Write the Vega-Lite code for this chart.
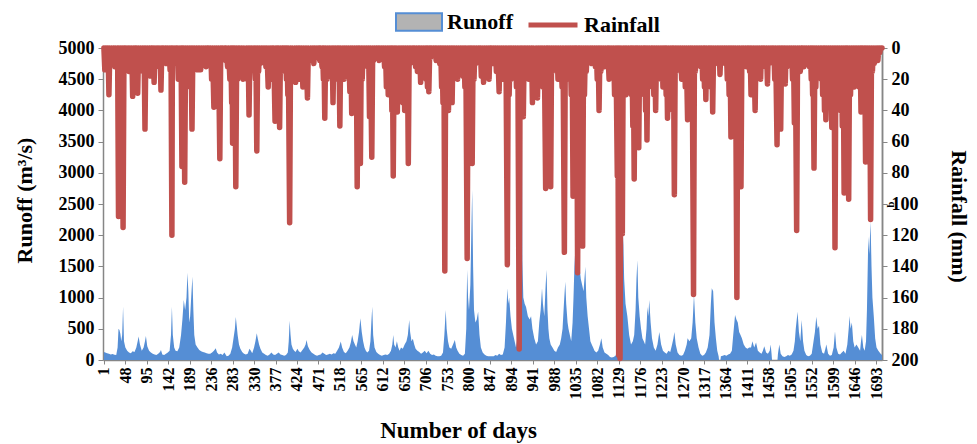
{
"$schema": "https://vega.github.io/schema/vega-lite/v6.json",
"width": 779, "height": 312,
"autosize": {"type": "none"},
"padding": {"left": 103, "top": 48, "right": 95, "bottom": 84},
"background": "white",
"config": {"view": {"stroke": null}, "font": "Liberation Serif",
 "axis": {"labelFont": "Liberation Serif", "titleFont": "Liberation Serif", "labelFontWeight": "bold", "titleFontWeight": "bold", "labelColor": "black", "titleColor": "black", "domainColor": "#868686", "tickColor": "#868686", "domainWidth": 1.5, "grid": false, "labelOverlap": false, "labelBound": false},
 "axisX": {"labelOverlap": false, "labelSeparation": -30},
 "legend": {"labelFont": "Liberation Serif", "labelFontWeight": "bold", "labelFontSize": 22, "labelColor": "black"}},
"datasets": {
"runoff": [
{"d":1,"q":130},{"d":4,"q":120},{"d":8,"q":110},{"d":12,"q":100},{"d":16,"q":90},{"d":20,"q":95},{"d":24,"q":85},{"d":28,"q":80},{"d":31,"q":200},{"d":33,"q":500},{"d":35,"q":480},{"d":37,"q":420},{"d":39,"q":300},{"d":41,"q":400},{"d":43,"q":855},{"d":45,"q":300},{"d":48,"q":200},{"d":52,"q":150},{"d":56,"q":120},{"d":60,"q":110},{"d":64,"q":140},{"d":68,"q":130},{"d":72,"q":200},{"d":75,"q":300},{"d":77,"q":375},{"d":80,"q":250},{"d":84,"q":150},{"d":88,"q":200},{"d":91,"q":300},{"d":93,"q":385},{"d":96,"q":220},{"d":100,"q":150},{"d":104,"q":120},{"d":108,"q":100},{"d":112,"q":90},{"d":116,"q":80},{"d":120,"q":100},{"d":124,"q":130},{"d":126,"q":160},{"d":129,"q":90},{"d":133,"q":80},{"d":137,"q":100},{"d":141,"q":120},{"d":145,"q":150},{"d":148,"q":400},{"d":150,"q":855},{"d":152,"q":400},{"d":155,"q":200},{"d":158,"q":150},{"d":162,"q":140},{"d":166,"q":200},{"d":170,"q":400},{"d":173,"q":650},{"d":176,"q":960},{"d":179,"q":800},{"d":182,"q":1000},{"d":184,"q":1400},{"d":186,"q":1100},{"d":188,"q":600},{"d":190,"q":700},{"d":193,"q":1100},{"d":195,"q":1335},{"d":197,"q":800},{"d":199,"q":400},{"d":202,"q":250},{"d":206,"q":200},{"d":210,"q":160},{"d":214,"q":140},{"d":218,"q":130},{"d":222,"q":120},{"d":226,"q":110},{"d":230,"q":100},{"d":234,"q":100},{"d":238,"q":120},{"d":242,"q":150},{"d":246,"q":190},{"d":249,"q":120},{"d":253,"q":90},{"d":257,"q":100},{"d":261,"q":80},{"d":265,"q":120},{"d":270,"q":60},{"d":274,"q":70},{"d":278,"q":100},{"d":282,"q":200},{"d":285,"q":350},{"d":288,"q":500},{"d":290,"q":690},{"d":292,"q":550},{"d":294,"q":400},{"d":297,"q":250},{"d":300,"q":180},{"d":304,"q":130},{"d":308,"q":100},{"d":312,"q":90},{"d":316,"q":100},{"d":320,"q":180},{"d":323,"q":150},{"d":326,"q":110},{"d":330,"q":200},{"d":333,"q":300},{"d":336,"q":430},{"d":338,"q":350},{"d":341,"q":250},{"d":344,"q":180},{"d":348,"q":120},{"d":352,"q":100},{"d":356,"q":80},{"d":360,"q":70},{"d":364,"q":90},{"d":368,"q":120},{"d":372,"q":90},{"d":376,"q":80},{"d":380,"q":100},{"d":384,"q":120},{"d":388,"q":90},{"d":392,"q":80},{"d":396,"q":70},{"d":400,"q":80},{"d":404,"q":120},{"d":406,"q":300},{"d":408,"q":630},{"d":410,"q":400},{"d":412,"q":250},{"d":415,"q":180},{"d":418,"q":150},{"d":421,"q":130},{"d":425,"q":180},{"d":428,"q":140},{"d":432,"q":120},{"d":436,"q":160},{"d":440,"q":200},{"d":443,"q":250},{"d":445,"q":320},{"d":448,"q":220},{"d":452,"q":160},{"d":456,"q":120},{"d":460,"q":100},{"d":464,"q":80},{"d":468,"q":70},{"d":472,"q":80},{"d":476,"q":90},{"d":480,"q":120},{"d":484,"q":100},{"d":488,"q":80},{"d":492,"q":90},{"d":496,"q":100},{"d":500,"q":90},{"d":504,"q":110},{"d":508,"q":100},{"d":512,"q":150},{"d":516,"q":200},{"d":520,"q":295},{"d":523,"q":200},{"d":527,"q":130},{"d":531,"q":110},{"d":535,"q":150},{"d":539,"q":200},{"d":542,"q":280},{"d":545,"q":400},{"d":548,"q":300},{"d":551,"q":250},{"d":554,"q":200},{"d":557,"q":300},{"d":560,"q":450},{"d":563,"q":670},{"d":566,"q":450},{"d":569,"q":300},{"d":572,"q":200},{"d":575,"q":150},{"d":578,"q":120},{"d":582,"q":150},{"d":585,"q":300},{"d":587,"q":600},{"d":589,"q":855},{"d":591,"q":400},{"d":594,"q":200},{"d":598,"q":130},{"d":602,"q":100},{"d":606,"q":80},{"d":610,"q":70},{"d":614,"q":80},{"d":618,"q":90},{"d":622,"q":80},{"d":626,"q":100},{"d":630,"q":150},{"d":633,"q":250},{"d":635,"q":400},{"d":637,"q":250},{"d":640,"q":200},{"d":643,"q":300},{"d":646,"q":200},{"d":649,"q":150},{"d":652,"q":200},{"d":656,"q":180},{"d":660,"q":250},{"d":664,"q":300},{"d":667,"q":400},{"d":670,"q":640},{"d":672,"q":450},{"d":675,"q":300},{"d":678,"q":340},{"d":681,"q":250},{"d":684,"q":180},{"d":688,"q":150},{"d":692,"q":130},{"d":696,"q":100},{"d":700,"q":120},{"d":704,"q":150},{"d":708,"q":110},{"d":712,"q":150},{"d":716,"q":100},{"d":720,"q":80},{"d":724,"q":90},{"d":728,"q":70},{"d":732,"q":60},{"d":736,"q":60},{"d":740,"q":70},{"d":744,"q":120},{"d":747,"q":400},{"d":750,"q":800},{"d":752,"q":500},{"d":755,"q":300},{"d":758,"q":200},{"d":762,"q":180},{"d":766,"q":250},{"d":770,"q":320},{"d":773,"q":200},{"d":776,"q":150},{"d":780,"q":100},{"d":784,"q":80},{"d":788,"q":70},{"d":792,"q":100},{"d":795,"q":500},{"d":797,"q":1445},{"d":799,"q":1000},{"d":801,"q":800},{"d":804,"q":1200},{"d":806,"q":2000},{"d":808,"q":2725},{"d":810,"q":1500},{"d":812,"q":800},{"d":815,"q":600},{"d":818,"q":650},{"d":821,"q":775},{"d":824,"q":400},{"d":827,"q":200},{"d":831,"q":120},{"d":835,"q":90},{"d":839,"q":70},{"d":843,"q":60},{"d":847,"q":60},{"d":851,"q":60},{"d":855,"q":60},{"d":859,"q":80},{"d":863,"q":70},{"d":867,"q":100},{"d":871,"q":80},{"d":875,"q":90},{"d":879,"q":200},{"d":882,"q":600},{"d":885,"q":1150},{"d":887,"q":900},{"d":889,"q":1000},{"d":892,"q":700},{"d":895,"q":500},{"d":898,"q":400},{"d":901,"q":300},{"d":904,"q":200},{"d":908,"q":400},{"d":911,"q":800},{"d":914,"q":1200},{"d":916,"q":1680},{"d":917,"q":4650},{"d":918,"q":1600},{"d":920,"q":1000},{"d":923,"q":900},{"d":926,"q":850},{"d":930,"q":700},{"d":934,"q":650},{"d":937,"q":700},{"d":940,"q":500},{"d":944,"q":350},{"d":948,"q":250},{"d":952,"q":300},{"d":955,"q":600},{"d":958,"q":800},{"d":961,"q":1150},{"d":963,"q":900},{"d":966,"q":700},{"d":969,"q":1200},{"d":971,"q":1445},{"d":973,"q":800},{"d":975,"q":500},{"d":977,"q":350},{"d":980,"q":250},{"d":984,"q":200},{"d":988,"q":150},{"d":992,"q":130},{"d":996,"q":200},{"d":1000,"q":250},{"d":1003,"q":350},{"d":1006,"q":500},{"d":1009,"q":900},{"d":1012,"q":1255},{"d":1014,"q":900},{"d":1017,"q":600},{"d":1019,"q":500},{"d":1022,"q":400},{"d":1025,"q":300},{"d":1028,"q":600},{"d":1030,"q":1000},{"d":1032,"q":1500},{"d":1035,"q":1925},{"d":1037,"q":1600},{"d":1039,"q":4970},{"d":1040,"q":1700},{"d":1043,"q":1500},{"d":1046,"q":1300},{"d":1049,"q":1200},{"d":1052,"q":1100},{"d":1054,"q":1300},{"d":1056,"q":1495},{"d":1058,"q":1000},{"d":1061,"q":700},{"d":1064,"q":500},{"d":1067,"q":300},{"d":1070,"q":250},{"d":1073,"q":200},{"d":1076,"q":150},{"d":1080,"q":120},{"d":1084,"q":150},{"d":1088,"q":250},{"d":1091,"q":350},{"d":1094,"q":200},{"d":1098,"q":120},{"d":1102,"q":100},{"d":1106,"q":80},{"d":1110,"q":50},{"d":1114,"q":40},{"d":1118,"q":50},{"d":1122,"q":70},{"d":1126,"q":150},{"d":1130,"q":300},{"d":1133,"q":600},{"d":1136,"q":1200},{"d":1139,"q":1975},{"d":1141,"q":1300},{"d":1144,"q":900},{"d":1148,"q":700},{"d":1152,"q":400},{"d":1156,"q":250},{"d":1160,"q":300},{"d":1163,"q":400},{"d":1166,"q":800},{"d":1168,"q":1300},{"d":1170,"q":1600},{"d":1172,"q":1000},{"d":1175,"q":700},{"d":1178,"q":500},{"d":1181,"q":350},{"d":1184,"q":300},{"d":1187,"q":250},{"d":1190,"q":500},{"d":1192,"q":850},{"d":1194,"q":700},{"d":1196,"q":960},{"d":1199,"q":600},{"d":1202,"q":350},{"d":1206,"q":200},{"d":1210,"q":150},{"d":1214,"q":250},{"d":1218,"q":450},{"d":1222,"q":250},{"d":1226,"q":150},{"d":1230,"q":120},{"d":1234,"q":100},{"d":1238,"q":150},{"d":1242,"q":130},{"d":1246,"q":250},{"d":1249,"q":350},{"d":1251,"q":450},{"d":1254,"q":250},{"d":1258,"q":120},{"d":1262,"q":80},{"d":1266,"q":70},{"d":1270,"q":80},{"d":1274,"q":150},{"d":1278,"q":250},{"d":1280,"q":350},{"d":1284,"q":300},{"d":1288,"q":350},{"d":1291,"q":600},{"d":1294,"q":1040},{"d":1297,"q":600},{"d":1300,"q":350},{"d":1304,"q":200},{"d":1308,"q":100},{"d":1312,"q":70},{"d":1316,"q":80},{"d":1320,"q":120},{"d":1324,"q":200},{"d":1328,"q":400},{"d":1331,"q":900},{"d":1333,"q":1150},{"d":1336,"q":1100},{"d":1339,"q":600},{"d":1342,"q":350},{"d":1345,"q":150},{"d":1348,"q":60},{"d":1349,"q":0},{"d":1352,"q":0},{"d":1353,"q":60},{"d":1357,"q":70},{"d":1361,"q":80},{"d":1365,"q":70},{"d":1369,"q":90},{"d":1373,"q":100},{"d":1377,"q":150},{"d":1380,"q":400},{"d":1384,"q":720},{"d":1387,"q":650},{"d":1390,"q":600},{"d":1393,"q":450},{"d":1396,"q":400},{"d":1399,"q":350},{"d":1403,"q":250},{"d":1407,"q":200},{"d":1411,"q":180},{"d":1415,"q":200},{"d":1419,"q":200},{"d":1422,"q":300},{"d":1426,"q":200},{"d":1430,"q":280},{"d":1434,"q":150},{"d":1438,"q":120},{"d":1442,"q":100},{"d":1445,"q":150},{"d":1448,"q":220},{"d":1452,"q":120},{"d":1456,"q":100},{"d":1460,"q":150},{"d":1462,"q":250},{"d":1464,"q":100},{"d":1465,"q":0},{"d":1477,"q":0},{"d":1478,"q":100},{"d":1481,"q":250},{"d":1484,"q":100},{"d":1488,"q":60},{"d":1492,"q":50},{"d":1496,"q":60},{"d":1500,"q":80},{"d":1504,"q":70},{"d":1508,"q":90},{"d":1512,"q":150},{"d":1515,"q":300},{"d":1517,"q":500},{"d":1521,"q":775},{"d":1524,"q":450},{"d":1527,"q":300},{"d":1530,"q":640},{"d":1533,"q":300},{"d":1536,"q":150},{"d":1540,"q":80},{"d":1544,"q":60},{"d":1548,"q":70},{"d":1552,"q":100},{"d":1556,"q":300},{"d":1559,"q":450},{"d":1562,"q":695},{"d":1565,"q":500},{"d":1568,"q":550},{"d":1571,"q":250},{"d":1575,"q":120},{"d":1579,"q":100},{"d":1582,"q":180},{"d":1584,"q":250},{"d":1588,"q":100},{"d":1592,"q":70},{"d":1596,"q":80},{"d":1600,"q":200},{"d":1603,"q":455},{"d":1606,"q":200},{"d":1610,"q":100},{"d":1614,"q":90},{"d":1618,"q":120},{"d":1622,"q":150},{"d":1626,"q":100},{"d":1630,"q":250},{"d":1633,"q":500},{"d":1635,"q":705},{"d":1637,"q":500},{"d":1640,"q":600},{"d":1643,"q":300},{"d":1646,"q":200},{"d":1650,"q":250},{"d":1654,"q":200},{"d":1658,"q":150},{"d":1660,"q":300},{"d":1662,"q":400},{"d":1665,"q":200},{"d":1668,"q":150},{"d":1671,"q":300},{"d":1673,"q":800},{"d":1676,"q":1975},{"d":1678,"q":1700},{"d":1681,"q":2215},{"d":1683,"q":1500},{"d":1685,"q":1000},{"d":1688,"q":700},{"d":1691,"q":350},{"d":1694,"q":200},{"d":1698,"q":150},{"d":1703,"q":100},{"d":1706,"q":80}
],
"rain": [
{"d":1,"r":0},{"d":3,"r":14},{"d":5,"r":0},{"d":8,"r":5},{"d":10,"r":0},{"d":12,"r":30},{"d":14,"r":0},{"d":16,"r":10},{"d":18,"r":0},{"d":20,"r":4},{"d":22,"r":0},{"d":25,"r":12},{"d":27,"r":0},{"d":29,"r":6},{"d":31,"r":0},{"d":33,"r":108},{"d":34,"r":0},{"d":36,"r":20},{"d":38,"r":0},{"d":40,"r":8},{"d":41,"r":0},{"d":43,"r":115},{"d":45,"r":0},{"d":47,"r":6},{"d":49,"r":0},{"d":52,"r":4},{"d":54,"r":0},{"d":56,"r":15},{"d":58,"r":0},{"d":60,"r":8},{"d":62,"r":0},{"d":64,"r":31},{"d":66,"r":0},{"d":68,"r":10},{"d":69,"r":0},{"d":71,"r":5},{"d":73,"r":0},{"d":75,"r":29},{"d":77,"r":0},{"d":79,"r":12},{"d":81,"r":0},{"d":83,"r":6},{"d":85,"r":0},{"d":87,"r":15},{"d":89,"r":0},{"d":91,"r":52},{"d":93,"r":0},{"d":95,"r":8},{"d":97,"r":0},{"d":99,"r":4},{"d":101,"r":0},{"d":103,"r":18},{"d":105,"r":0},{"d":107,"r":6},{"d":109,"r":0},{"d":111,"r":22},{"d":113,"r":0},{"d":115,"r":8},{"d":117,"r":0},{"d":119,"r":5},{"d":120,"r":0},{"d":122,"r":12},{"d":124,"r":0},{"d":126,"r":27},{"d":128,"r":0},{"d":130,"r":6},{"d":132,"r":0},{"d":134,"r":3},{"d":136,"r":0},{"d":138,"r":10},{"d":140,"r":0},{"d":142,"r":6},{"d":144,"r":0},{"d":146,"r":14},{"d":148,"r":0},{"d":150,"r":120},{"d":151,"r":0},{"d":153,"r":10},{"d":155,"r":0},{"d":157,"r":4},{"d":159,"r":0},{"d":161,"r":8},{"d":162,"r":0},{"d":164,"r":20},{"d":166,"r":0},{"d":168,"r":12},{"d":170,"r":0},{"d":172,"r":76},{"d":173,"r":0},{"d":175,"r":30},{"d":176,"r":0},{"d":178,"r":86},{"d":180,"r":0},{"d":182,"r":10},{"d":184,"r":0},{"d":186,"r":18},{"d":188,"r":0},{"d":190,"r":25},{"d":192,"r":0},{"d":194,"r":52},{"d":196,"r":0},{"d":198,"r":12},{"d":200,"r":0},{"d":202,"r":6},{"d":204,"r":0},{"d":206,"r":14},{"d":208,"r":0},{"d":210,"r":4},{"d":211,"r":0},{"d":213,"r":14},{"d":215,"r":0},{"d":217,"r":8},{"d":219,"r":0},{"d":221,"r":5},{"d":223,"r":0},{"d":225,"r":12},{"d":227,"r":0},{"d":229,"r":4},{"d":231,"r":0},{"d":233,"r":10},{"d":235,"r":0},{"d":237,"r":20},{"d":239,"r":0},{"d":242,"r":38},{"d":244,"r":0},{"d":246,"r":8},{"d":248,"r":0},{"d":250,"r":15},{"d":252,"r":0},{"d":255,"r":71},{"d":257,"r":0},{"d":259,"r":6},{"d":261,"r":0},{"d":263,"r":4},{"d":266,"r":0},
{"d":268,"r":8},{"d":269,"r":0},{"d":272,"r":12},{"d":274,"r":0},{"d":277,"r":20},{"d":279,"r":0},{"d":281,"r":35},{"d":282,"r":0},{"d":283,"r":61},{"d":285,"r":0},{"d":287,"r":30},{"d":288,"r":0},{"d":290,"r":89},{"d":292,"r":0},{"d":294,"r":20},{"d":296,"r":0},{"d":298,"r":10},{"d":299,"r":0},{"d":301,"r":15},{"d":303,"r":0},{"d":306,"r":20},{"d":308,"r":0},{"d":311,"r":8},{"d":313,"r":0},{"d":315,"r":20},{"d":317,"r":0},{"d":319,"r":43},{"d":321,"r":0},{"d":323,"r":12},{"d":325,"r":0},{"d":328,"r":6},{"d":330,"r":0},{"d":333,"r":20},{"d":334,"r":0},{"d":336,"r":66},{"d":338,"r":0},{"d":340,"r":15},{"d":342,"r":0},{"d":344,"r":10},{"d":346,"r":0},{"d":348,"r":8},{"d":350,"r":0},{"d":352,"r":5},{"d":354,"r":0},{"d":356,"r":12},{"d":358,"r":0},{"d":361,"r":25},{"d":363,"r":0},{"d":365,"r":10},{"d":367,"r":0},{"d":369,"r":20},{"d":370,"r":0},{"d":372,"r":18},{"d":373,"r":0},{"d":376,"r":47},{"d":378,"r":0},{"d":380,"r":20},{"d":381,"r":0},{"d":383,"r":30},{"d":384,"r":0},{"d":386,"r":51},{"d":388,"r":0},{"d":390,"r":15},{"d":392,"r":0},{"d":394,"r":6},{"d":396,"r":0},{"d":398,"r":12},{"d":399,"r":0},{"d":401,"r":20},{"d":402,"r":0},{"d":404,"r":30},{"d":405,"r":0},{"d":408,"r":112},{"d":410,"r":0},{"d":412,"r":20},{"d":414,"r":0},{"d":417,"r":8},{"d":419,"r":0},{"d":421,"r":22},{"d":423,"r":0},{"d":425,"r":15},{"d":427,"r":0},{"d":429,"r":20},{"d":430,"r":0},{"d":432,"r":14},{"d":434,"r":0},{"d":437,"r":25},{"d":439,"r":0},{"d":442,"r":12},{"d":444,"r":0},{"d":447,"r":32},{"d":449,"r":0},{"d":452,"r":8},{"d":454,"r":0},{"d":457,"r":5},{"d":459,"r":0},{"d":461,"r":10},{"d":463,"r":0},{"d":466,"r":6},{"d":468,"r":0},{"d":470,"r":3},{"d":472,"r":0},{"d":474,"r":8},{"d":476,"r":0},{"d":479,"r":12},{"d":480,"r":0},{"d":482,"r":20},{"d":483,"r":0},{"d":485,"r":45},{"d":487,"r":0},{"d":490,"r":20},{"d":492,"r":0},{"d":494,"r":10},{"d":496,"r":0},{"d":499,"r":15},{"d":501,"r":0},{"d":503,"r":35},{"d":505,"r":0},{"d":507,"r":20},{"d":509,"r":0},{"d":511,"r":8},{"d":513,"r":0},{"d":515,"r":12},{"d":516,"r":0},{"d":518,"r":50},{"d":520,"r":0},{"d":523,"r":10},{"d":525,"r":0},{"d":527,"r":20},{"d":529,"r":0},{"d":531,"r":8},{"d":533,"r":0},{"d":535,"r":15},{"d":537,"r":0},{"d":540,"r":28},{"d":542,"r":0},{"d":544,"r":42},{"d":546,"r":0},{"d":548,"r":10},{"d":550,"r":0},{"d":552,"r":20},{"d":554,"r":0},{"d":556,"r":89},{"d":558,"r":0},
{"d":560,"r":20},{"d":561,"r":0},{"d":563,"r":74},{"d":565,"r":0},{"d":567,"r":20},{"d":569,"r":0},{"d":571,"r":10},{"d":573,"r":0},{"d":575,"r":6},{"d":577,"r":0},{"d":579,"r":12},{"d":581,"r":0},{"d":583,"r":44},{"d":585,"r":0},{"d":588,"r":70},{"d":590,"r":0},{"d":592,"r":8},{"d":594,"r":0},{"d":596,"r":3},{"d":598,"r":0},{"d":600,"r":5},{"d":602,"r":0},{"d":604,"r":8},{"d":606,"r":0},{"d":608,"r":4},{"d":610,"r":0},{"d":612,"r":6},{"d":614,"r":0},{"d":616,"r":12},{"d":618,"r":0},{"d":620,"r":25},{"d":622,"r":0},{"d":624,"r":30},{"d":626,"r":0},{"d":628,"r":20},{"d":630,"r":0},{"d":632,"r":40},{"d":633,"r":0},{"d":635,"r":82},{"d":637,"r":0},{"d":639,"r":30},{"d":641,"r":0},{"d":644,"r":41},{"d":646,"r":0},{"d":648,"r":10},{"d":650,"r":0},{"d":652,"r":20},{"d":654,"r":0},{"d":656,"r":35},{"d":658,"r":0},{"d":660,"r":40},{"d":662,"r":0},{"d":664,"r":25},{"d":666,"r":0},{"d":668,"r":74},{"d":670,"r":0},{"d":672,"r":10},{"d":674,"r":0},{"d":676,"r":4},{"d":678,"r":0},{"d":680,"r":8},{"d":682,"r":0},{"d":684,"r":12},{"d":686,"r":0},{"d":688,"r":15},{"d":690,"r":0},{"d":692,"r":10},{"d":693,"r":0},{"d":695,"r":22},{"d":697,"r":0},{"d":699,"r":8},{"d":701,"r":0},{"d":703,"r":12},{"d":705,"r":0},{"d":707,"r":20},{"d":708,"r":0},{"d":710,"r":25},{"d":711,"r":0},{"d":713,"r":28},{"d":715,"r":0},{"d":717,"r":6},{"d":719,"r":0},{"d":721,"r":3},{"d":723,"r":0},{"d":725,"r":5},{"d":727,"r":0},{"d":729,"r":8},{"d":731,"r":0},{"d":733,"r":4},{"d":735,"r":0},{"d":737,"r":10},{"d":739,"r":0},{"d":741,"r":25},{"d":742,"r":0},{"d":744,"r":35},{"d":746,"r":0},{"d":748,"r":143},{"d":750,"r":0},{"d":752,"r":30},{"d":754,"r":0},{"d":756,"r":40},{"d":758,"r":0},{"d":760,"r":25},{"d":762,"r":0},{"d":764,"r":35},{"d":766,"r":0},{"d":768,"r":15},{"d":770,"r":0},{"d":772,"r":10},{"d":774,"r":0},{"d":776,"r":20},{"d":778,"r":0},{"d":780,"r":12},{"d":782,"r":0},{"d":784,"r":8},{"d":786,"r":0},{"d":788,"r":18},{"d":790,"r":0},{"d":792,"r":25},{"d":794,"r":0},{"d":797,"r":135},{"d":799,"r":0},{"d":801,"r":30},{"d":803,"r":0},{"d":805,"r":40},{"d":806,"r":0},{"d":808,"r":74},{"d":810,"r":0},{"d":812,"r":20},{"d":814,"r":0},{"d":816,"r":10},{"d":818,"r":0},{"d":820,"r":5},{"d":822,"r":0},{"d":824,"r":8},{"d":826,"r":0},{"d":828,"r":18},{"d":830,"r":0},{"d":833,"r":22},{"d":835,"r":0},{"d":837,"r":10},{"d":839,"r":0},{"d":841,"r":6},{"d":843,"r":0},{"d":845,"r":20},{"d":847,"r":0},{"d":849,"r":5},{"d":851,"r":0},{"d":853,"r":10},{"d":855,"r":0},
{"d":857,"r":8},{"d":859,"r":0},{"d":861,"r":15},{"d":864,"r":0},{"d":867,"r":28},{"d":869,"r":0},{"d":871,"r":10},{"d":873,"r":0},{"d":875,"r":20},{"d":877,"r":0},{"d":879,"r":15},{"d":882,"r":0},{"d":885,"r":139},{"d":887,"r":0},{"d":889,"r":30},{"d":891,"r":0},{"d":893,"r":20},{"d":895,"r":0},{"d":897,"r":10},{"d":899,"r":0},{"d":901,"r":15},{"d":903,"r":0},{"d":905,"r":25},{"d":908,"r":0},{"d":911,"r":193},{"d":913,"r":0},{"d":915,"r":10},{"d":917,"r":0},{"d":920,"r":44},{"d":922,"r":0},{"d":924,"r":15},{"d":926,"r":0},{"d":928,"r":10},{"d":930,"r":0},{"d":932,"r":20},{"d":934,"r":0},{"d":936,"r":15},{"d":938,"r":0},{"d":940,"r":35},{"d":942,"r":0},{"d":945,"r":12},{"d":948,"r":0},{"d":951,"r":32},{"d":953,"r":0},{"d":955,"r":10},{"d":957,"r":0},{"d":959,"r":18},{"d":961,"r":0},{"d":963,"r":25},{"d":966,"r":0},{"d":969,"r":90},{"d":971,"r":0},{"d":973,"r":20},{"d":974,"r":0},{"d":976,"r":30},{"d":978,"r":0},{"d":980,"r":89},{"d":982,"r":0},{"d":984,"r":15},{"d":986,"r":0},{"d":988,"r":8},{"d":990,"r":0},{"d":992,"r":12},{"d":994,"r":0},{"d":996,"r":20},{"d":998,"r":0},{"d":1000,"r":15},{"d":1002,"r":0},{"d":1005,"r":25},{"d":1007,"r":0},{"d":1010,"r":131},{"d":1012,"r":0},{"d":1014,"r":10},{"d":1016,"r":0},{"d":1018,"r":15},{"d":1020,"r":0},{"d":1022,"r":20},{"d":1023,"r":0},{"d":1025,"r":30},{"d":1027,"r":0},{"d":1029,"r":95},{"d":1031,"r":0},{"d":1033,"r":40},{"d":1034,"r":0},{"d":1036,"r":50},{"d":1037,"r":0},{"d":1039,"r":144},{"d":1041,"r":0},{"d":1043,"r":60},{"d":1044,"r":0},{"d":1046,"r":70},{"d":1048,"r":0},{"d":1050,"r":127},{"d":1052,"r":0},{"d":1054,"r":30},{"d":1056,"r":0},{"d":1058,"r":15},{"d":1060,"r":0},{"d":1062,"r":8},{"d":1064,"r":0},{"d":1066,"r":5},{"d":1068,"r":0},{"d":1070,"r":10},{"d":1072,"r":0},{"d":1074,"r":6},{"d":1076,"r":0},{"d":1078,"r":12},{"d":1080,"r":0},{"d":1082,"r":20},{"d":1084,"r":0},{"d":1086,"r":40},{"d":1088,"r":0},{"d":1090,"r":15},{"d":1092,"r":0},{"d":1094,"r":8},{"d":1096,"r":0},{"d":1098,"r":12},{"d":1100,"r":0},{"d":1102,"r":5},{"d":1105,"r":0},{"d":1108,"r":20},{"d":1110,"r":0},{"d":1112,"r":8},{"d":1114,"r":0},{"d":1116,"r":15},{"d":1118,"r":0},{"d":1120,"r":30},{"d":1123,"r":0},{"d":1126,"r":82},{"d":1127,"r":0},{"d":1129,"r":197},{"d":1130,"r":0},{"d":1132,"r":199},{"d":1134,"r":0},
{"d":1137,"r":119},{"d":1139,"r":0},{"d":1141,"r":15},{"d":1143,"r":0},{"d":1145,"r":30},{"d":1147,"r":0},{"d":1149,"r":10},{"d":1151,"r":0},{"d":1153,"r":20},{"d":1155,"r":0},{"d":1157,"r":30},{"d":1158,"r":0},{"d":1160,"r":50},{"d":1161,"r":0},{"d":1163,"r":84},{"d":1165,"r":0},{"d":1167,"r":20},{"d":1168,"r":0},{"d":1170,"r":40},{"d":1171,"r":0},{"d":1173,"r":64},{"d":1175,"r":0},{"d":1177,"r":10},{"d":1179,"r":0},{"d":1181,"r":20},{"d":1183,"r":0},{"d":1185,"r":30},{"d":1186,"r":0},{"d":1188,"r":40},{"d":1189,"r":0},{"d":1191,"r":59},{"d":1193,"r":0},{"d":1195,"r":15},{"d":1197,"r":0},{"d":1199,"r":10},{"d":1201,"r":0},{"d":1203,"r":25},{"d":1204,"r":0},{"d":1206,"r":30},{"d":1208,"r":0},{"d":1210,"r":40},{"d":1212,"r":0},{"d":1214,"r":15},{"d":1216,"r":0},{"d":1218,"r":10},{"d":1220,"r":0},{"d":1222,"r":20},{"d":1224,"r":0},{"d":1226,"r":25},{"d":1228,"r":0},{"d":1230,"r":15},{"d":1231,"r":0},{"d":1233,"r":30},{"d":1234,"r":0},{"d":1236,"r":45},{"d":1238,"r":0},{"d":1240,"r":10},{"d":1242,"r":0},{"d":1244,"r":20},{"d":1246,"r":0},{"d":1248,"r":40},{"d":1249,"r":0},{"d":1251,"r":94},{"d":1253,"r":0},{"d":1255,"r":15},{"d":1257,"r":0},{"d":1259,"r":8},{"d":1261,"r":0},{"d":1263,"r":12},{"d":1265,"r":0},{"d":1267,"r":20},{"d":1269,"r":0},{"d":1271,"r":10},{"d":1273,"r":0},{"d":1275,"r":25},{"d":1277,"r":0},{"d":1280,"r":46},{"d":1282,"r":0},{"d":1284,"r":20},{"d":1286,"r":0},{"d":1288,"r":30},{"d":1290,"r":0},{"d":1293,"r":158},{"d":1295,"r":0},{"d":1297,"r":15},{"d":1299,"r":0},{"d":1301,"r":10},{"d":1303,"r":0},{"d":1305,"r":6},{"d":1307,"r":0},{"d":1309,"r":12},{"d":1311,"r":0},{"d":1313,"r":20},{"d":1315,"r":0},{"d":1317,"r":25},{"d":1318,"r":0},{"d":1320,"r":33},{"d":1322,"r":0},{"d":1324,"r":10},{"d":1326,"r":0},{"d":1328,"r":15},{"d":1329,"r":0},{"d":1331,"r":25},{"d":1333,"r":0},{"d":1335,"r":41},{"d":1337,"r":0},{"d":1339,"r":10},{"d":1341,"r":0},{"d":1343,"r":6},{"d":1345,"r":0},{"d":1347,"r":10},{"d":1349,"r":0},{"d":1351,"r":17},{"d":1353,"r":0},{"d":1355,"r":8},{"d":1357,"r":0},{"d":1359,"r":4},{"d":1361,"r":0},{"d":1363,"r":10},{"d":1365,"r":0},{"d":1367,"r":20},{"d":1369,"r":0},{"d":1371,"r":30},{"d":1373,"r":0},{"d":1375,"r":57},{"d":1377,"r":0},{"d":1379,"r":20},{"d":1381,"r":0},{"d":1383,"r":40},{"d":1385,"r":0},{"d":1388,"r":160},{"d":1390,"r":0},{"d":1392,"r":20},{"d":1394,"r":0},{"d":1397,"r":89},{"d":1399,"r":0},{"d":1401,"r":10},{"d":1403,"r":0},{"d":1405,"r":6},{"d":1407,"r":0},{"d":1409,"r":12},{"d":1411,"r":0},{"d":1413,"r":8},{"d":1414,"r":0},{"d":1416,"r":15},{"d":1417,"r":0},{"d":1419,"r":30},{"d":1421,"r":0},
{"d":1423,"r":10},{"d":1425,"r":0},{"d":1428,"r":40},{"d":1430,"r":0},{"d":1432,"r":8},{"d":1434,"r":0},{"d":1436,"r":15},{"d":1438,"r":0},{"d":1440,"r":20},{"d":1442,"r":0},{"d":1444,"r":10},{"d":1446,"r":0},{"d":1448,"r":6},{"d":1449,"r":0},{"d":1451,"r":12},{"d":1453,"r":0},{"d":1455,"r":23},{"d":1457,"r":0},{"d":1459,"r":10},{"d":1461,"r":0},{"d":1463,"r":5},{"d":1465,"r":0},{"d":1467,"r":8},{"d":1469,"r":0},{"d":1471,"r":20},{"d":1473,"r":0},{"d":1476,"r":62},{"d":1478,"r":0},{"d":1480,"r":15},{"d":1482,"r":0},{"d":1484,"r":52},{"d":1486,"r":0},{"d":1488,"r":10},{"d":1489,"r":0},{"d":1491,"r":15},{"d":1492,"r":0},{"d":1494,"r":23},{"d":1496,"r":0},{"d":1498,"r":12},{"d":1500,"r":0},{"d":1502,"r":6},{"d":1504,"r":0},{"d":1506,"r":10},{"d":1508,"r":0},{"d":1510,"r":20},{"d":1512,"r":0},{"d":1514,"r":48},{"d":1516,"r":0},{"d":1519,"r":117},{"d":1521,"r":0},{"d":1523,"r":10},{"d":1525,"r":0},{"d":1527,"r":15},{"d":1529,"r":0},{"d":1531,"r":6},{"d":1533,"r":0},{"d":1535,"r":12},{"d":1537,"r":0},{"d":1539,"r":8},{"d":1541,"r":0},{"d":1543,"r":5},{"d":1545,"r":0},{"d":1547,"r":12},{"d":1549,"r":0},{"d":1551,"r":20},{"d":1552,"r":0},{"d":1554,"r":30},{"d":1555,"r":0},{"d":1557,"r":77},{"d":1559,"r":0},{"d":1561,"r":25},{"d":1563,"r":0},{"d":1565,"r":10},{"d":1567,"r":0},{"d":1569,"r":15},{"d":1571,"r":0},{"d":1573,"r":20},{"d":1574,"r":0},{"d":1576,"r":30},{"d":1578,"r":0},{"d":1580,"r":40},{"d":1581,"r":0},{"d":1583,"r":46},{"d":1585,"r":0},{"d":1587,"r":20},{"d":1589,"r":0},{"d":1591,"r":30},{"d":1593,"r":0},{"d":1596,"r":51},{"d":1597,"r":0},{"d":1599,"r":40},{"d":1601,"r":0},{"d":1603,"r":128},{"d":1605,"r":0},{"d":1607,"r":20},{"d":1609,"r":0},{"d":1611,"r":30},{"d":1613,"r":0},{"d":1615,"r":40},{"d":1617,"r":0},{"d":1619,"r":50},{"d":1621,"r":0},{"d":1623,"r":93},{"d":1625,"r":0},{"d":1627,"r":40},{"d":1628,"r":0},{"d":1630,"r":60},{"d":1631,"r":0},{"d":1633,"r":97},{"d":1635,"r":0},{"d":1637,"r":30},{"d":1639,"r":0},{"d":1641,"r":15},{"d":1643,"r":0},{"d":1645,"r":25},{"d":1647,"r":0},{"d":1649,"r":20},{"d":1651,"r":0},{"d":1653,"r":10},{"d":1654,"r":0},{"d":1656,"r":25},{"d":1658,"r":0},{"d":1660,"r":41},{"d":1661,"r":0},{"d":1663,"r":20},{"d":1664,"r":0},{"d":1666,"r":30},{"d":1668,"r":0},{"d":1670,"r":73},{"d":1671,"r":0},{"d":1673,"r":40},{"d":1675,"r":0},{"d":1677,"r":60},{"d":1679,"r":0},{"d":1681,"r":110},{"d":1683,"r":0},{"d":1685,"r":15},{"d":1687,"r":0},{"d":1689,"r":10},{"d":1691,"r":0},{"d":1693,"r":5},{"d":1695,"r":0},{"d":1697,"r":8},{"d":1699,"r":0},{"d":1701,"r":3},{"d":1703,"r":0},{"d":1706,"r":0}
]
},
"layer": [
{
"data": {"name": "runoff"},
"mark": {"type": "area", "interpolate": "linear", "color": "#558ED5"},
"encoding": {
"x": {"field": "d", "type": "quantitative", "scale": {"domain": [-1, 1706], "nice": false, "zero": false},
 "axis": {"values": [1,48,95,142,189,236,283,330,377,424,471,518,565,612,659,706,753,800,847,894,941,988,1035,1082,1129,1176,1223,1270,1317,1364,1411,1458,1505,1552,1599,1646,1693], "format": "d", "labelAngle": -90, "labelFontSize": 16, "labelPadding": 3, "tickSize": 4, "labelOverlap": false, "labelSeparation": -30, "labelFlush": false, "labelBound": false, "title": "Number of days", "titleFontSize": 23, "titleBaseline": "middle", "titleX": 355, "titleY": 70}},
"y": {"field": "q", "type": "quantitative", "scale": {"domain": [0, 5000], "nice": false},
 "axis": {"values": [0,500,1000,1500,2000,2500,3000,3500,4000,4500,5000], "format": "d", "labelFontSize": 18, "labelPadding": 4, "tickSize": 5, "title": "Runoff (m³/s)", "titleFontSize": 22, "titleBaseline": "middle", "titleX": -79, "titleY": 152}}
}
},
{
"data": {"name": "runoff"},
"transform": [{"filter": "datum.d < 0"}],
"mark": {"type": "point", "filled": true, "shape": "square", "stroke": "#558ED5", "strokeWidth": 2, "opacity": 1},
"encoding": {
"x": {"field": "d", "type": "quantitative", "scale": {"domain": [-1, 1706], "nice": false, "zero": false},
 "axis": {"values": [1,48,95,142,189,236,283,330,377,424,471,518,565,612,659,706,753,800,847,894,941,988,1035,1082,1129,1176,1223,1270,1317,1364,1411,1458,1505,1552,1599,1646,1693], "format": "d", "labelAngle": -90, "labelFontSize": 16, "labelPadding": 3, "tickSize": 4, "labelOverlap": false, "labelSeparation": -30, "labelFlush": false, "labelBound": false, "title": "Number of days", "titleFontSize": 23, "titleBaseline": "middle", "titleX": 355, "titleY": 70}},
"y": {"field": "q", "type": "quantitative"},
"fill": {"datum": "Runoff", "scale": {"domain": ["Runoff"], "range": ["#B3B3B3"]},
 "legend": {"orient": "none", "legendX": 292, "legendY": -50, "title": null, "symbolType": "M-1,-0.38H1V0.38H-1Z", "symbolSize": 2116, "symbolStrokeWidth": 2, "symbolStrokeColor": "#558ED5", "labelOffset": 4}}
}
},
{
"data": {"name": "rain"},
"mark": {"type": "line", "strokeWidth": 5.5, "strokeJoin": "round", "strokeCap": "round", "clip": false},
"encoding": {
"x": {"field": "d", "type": "quantitative", "scale": {"domain": [-1, 1706], "nice": false, "zero": false},
 "axis": {"values": [1,48,95,142,189,236,283,330,377,424,471,518,565,612,659,706,753,800,847,894,941,988,1035,1082,1129,1176,1223,1270,1317,1364,1411,1458,1505,1552,1599,1646,1693], "format": "d", "labelAngle": -90, "labelFontSize": 16, "labelPadding": 3, "tickSize": 4, "labelOverlap": false, "labelSeparation": -30, "labelFlush": false, "labelBound": false, "title": "Number of days", "titleFontSize": 23, "titleBaseline": "middle", "titleX": 355, "titleY": 70}},
"y": {"field": "r", "type": "quantitative", "scale": {"domain": [0, 200], "reverse": true, "nice": false},
 "axis": {"orient": "right", "values": [0,20,40,60,80,100,120,140,160,180,200], "format": "d", "labelFontSize": 18, "labelPadding": 4, "tickSize": 5, "title": "Rainfall (mm)", "titleFontSize": 22, "titleBaseline": "middle", "titleAngle": 90, "titleX": 76, "titleY": 168}},
"stroke": {"datum": "Rainfall", "scale": {"domain": ["Rainfall"], "range": ["#C0504D"]},
 "legend": {"orient": "none", "legendX": 423, "legendY": -50, "title": null, "symbolType": "stroke", "symbolSize": 2401, "symbolStrokeWidth": 5, "labelOffset": 4}}
}
}
],
"resolve": {"scale": {"y": "independent"}}
}
